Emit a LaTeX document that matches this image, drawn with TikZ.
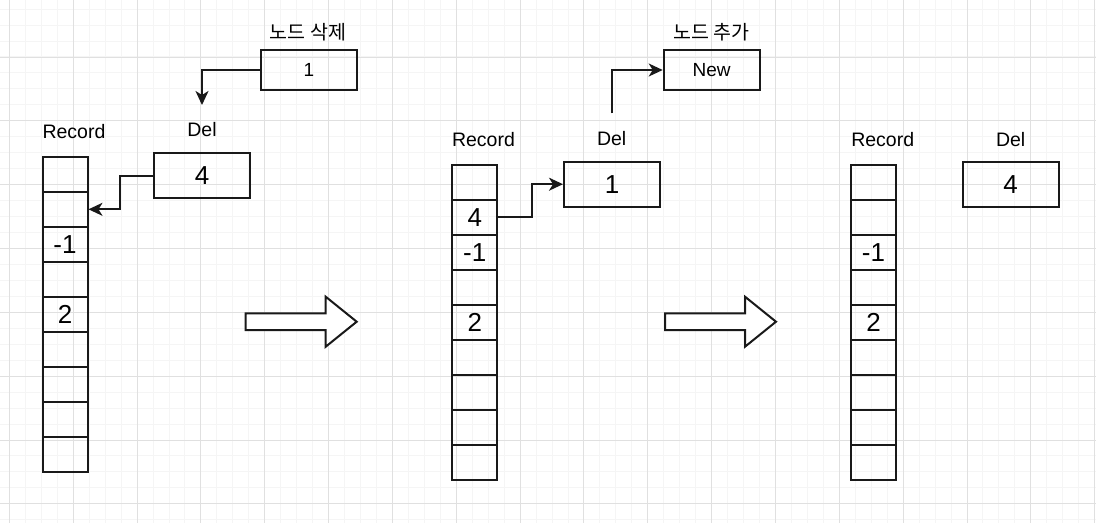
\documentclass[tikz,border=0pt]{standalone}
\usepackage{fontspec}
\setmainfont{Liberation Sans}
\newfontfamily\kr{Noto Sans CJK KR}
\usetikzlibrary{arrows.meta}
\tikzset{
  gridminor/.style={draw=black!4, line width=0.8pt},
  gridmajor/.style={draw=black!12, line width=1pt},
  cell/.style={draw=black!90, line width=2pt, minimum width=45pt, minimum height=35.07pt, inner sep=0pt, font=\fontsize{26}{26}\selectfont},
  valbox/.style={draw=black!90, line width=2pt, minimum width=96pt, minimum height=45pt, inner sep=0pt, font=\fontsize{26}{26}\selectfont},
  smallbox/.style={draw=black!90, line width=2pt, minimum width=96pt, minimum height=40pt, inner sep=0pt, font=\fontsize{19}{19}\selectfont},
  lbl/.style={inner sep=0pt, font=\fontsize{19.5}{19.5}\selectfont},
  krlbl/.style={inner sep=0pt, font=\kr\fontsize{19.5}{19.5}\selectfont},
  conn/.style={draw=black!90, line width=1.8pt, -{Stealth[length=14pt,width=13pt,inset=4pt]}},
  bigarrow/.style={draw=black!90, line width=2pt, fill=white, line join=miter}
}
\begin{document}
\begin{tikzpicture}[x=1pt,y=-1pt]
\useasboundingbox (0,0) rectangle (1096,523);
\fill[white] (0,0) rectangle (1096,523);
% grid
\foreach \k in {0,...,68} \draw[gridminor] ({9.3+15.96*\k},0) -- ({9.3+15.96*\k},523);
\foreach \k in {0,...,33} \draw[gridminor] (0,{9+15.96*\k}) -- (1096,{9+15.96*\k});
\foreach \k in {0,...,17} \draw[gridmajor] ({9.3+63.85*\k},0) -- ({9.3+63.85*\k},523);
\foreach \k in {0,...,7} \draw[gridmajor] (0,{57+63.85*\k}) -- (1096,{57+63.85*\k});

% ---------- picture 1 ----------
\node[lbl] (rec1) at (74,132) {Record};
\foreach \i/\t in {1/,2/,3/-1,4/,5/2,6/,7/,8/,9/}
  \node[cell] (a\i) at (65,{156.7+35.07*(\i-0.5)}) {\t};
\node[krlbl] (kdel) at (308,32) {노드 삭제};
\node[smallbox] (n1) at (309,70) {1};
\node[lbl] (del1l) at (202,130) {Del};
\node[valbox] (d1) at (202,175.8) {4};
\coordinate (c1) at (202,105);
\draw[conn] (n1.west) -| (c1);
\draw[conn] (d1.west) -- ++(-33,0) |- (a2.east);
\draw[bigarrow] (245.7,313.3) -- (325.7,313.3) -- (325.7,296.7) -- (356.7,321.7) -- (325.7,346.7) -- (325.7,330) -- (245.7,330) -- cycle;

% ---------- picture 2 ----------
\node[lbl] (rec2) at (483.5,140) {Record};
\foreach \i/\t in {1/,2/4,3/-1,4/,5/2,6/,7/,8/,9/}
  \node[cell] (b\i) at (474.8,{164.7+35.07*(\i-0.5)}) {\t};
\node[lbl] (del2l) at (611.7,138.3) {Del};
\node[valbox] (d2) at (612,184.2) {1};
\node[krlbl] (kadd) at (711.7,32) {노드 추가};
\node[smallbox] (new) at (711.7,70) {New};
\coordinate (c2) at (611.7,113.3);
\draw[conn] (b2.east) -- ++(33.5,0) |- (d2.west);
\draw[conn] (c2) |- (new.west);
\draw[bigarrow] (665,313.3) -- (745,313.3) -- (745,296.7) -- (776,321.7) -- (745,346.7) -- (745,330) -- (665,330) -- cycle;

% ---------- picture 3 ----------
\node[lbl] (rec3) at (882.7,140) {Record};
\foreach \i/\t in {1/,2/,3/-1,4/,5/2,6/,7/,8/,9/}
  \node[cell] (e\i) at (873.5,{164.7+35.07*(\i-0.5)}) {\t};
\node[lbl] (del3l) at (1010.7,139.3) {Del};
\node[valbox] (d3) at (1010.7,184.2) {4};
\end{tikzpicture}
\end{document}
